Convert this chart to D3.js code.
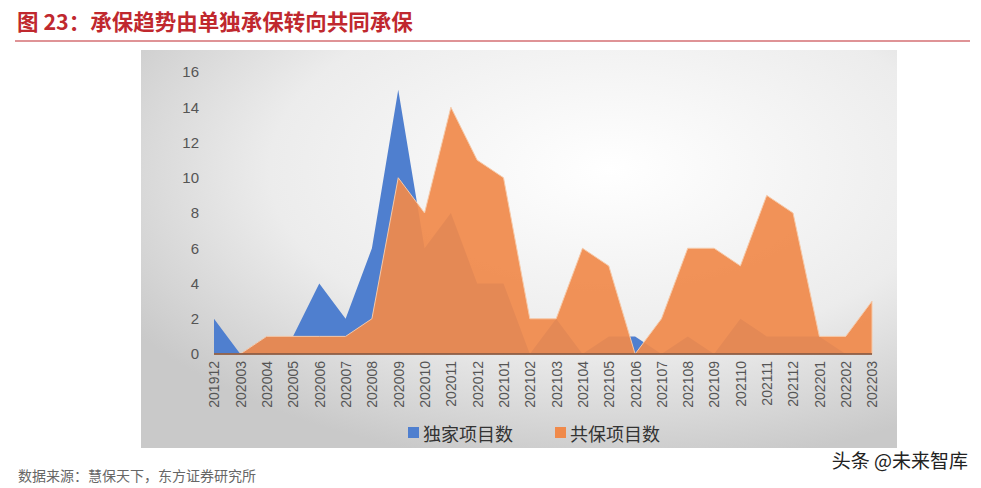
<!DOCTYPE html>
<html><head><meta charset="utf-8">
<script src="https://cdn.jsdelivr.net/npm/d3@7"></script>
<style>
body{margin:0;background:#fff;font-family:"Noto Sans CJK SC","Noto Sans",sans-serif;}
</style></head>
<body><svg id="c" width="981" height="488"></svg>
<script>
// data
var months = ["201912","202003","202004","202005","202006","202007","202008","202009","202010","202011","202012","202101","202102","202103","202104","202105","202106","202107","202108","202109","202110","202111","202112","202201","202202","202203"];
var sole  = [2,0,1,1,4,2,6,15,6,8,4,4,0,2,0,1,1,0,1,0,2,1,1,1,0,0];
var joint = [0,0,1,1,1,1,2,10,8,14,11,10,2,2,6,5,0,2,6,6,5,9,8,1,1,3];
var yTicks = [0,2,4,6,8,10,12,14,16];

var svg = d3.select("#c");
var defs = svg.append("defs");
var g = defs.append("radialGradient").attr("id","bg").attr("cx","0.62").attr("cy","0.3").attr("r","0.75");
g.append("stop").attr("offset","0").attr("stop-color","#ffffff");
g.append("stop").attr("offset","0.6").attr("stop-color","#ececec");
g.append("stop").attr("offset","1").attr("stop-color","#c9c9c9");

// title
svg.append("text").attr("x",17).attr("y",30).attr("fill","#c0282e")
  .attr("font-size",21.5).attr("font-weight","bold").text("图 23：承保趋势由单独承保转向共同承保");
svg.append("line").attr("x1",15).attr("x2",970).attr("y1",41).attr("y2",41)
  .attr("stroke","#c0282e").attr("stroke-width",1.2);

svg.append("rect").attr("x",141).attr("y",50).attr("width",756).attr("height",398).attr("fill","url(#bg)");

var x = d3.scalePoint().domain(months).range([214,872]);
var y = d3.scaleLinear().domain([0,16]).range([354,72]);

var area = function(vals){
  return d3.area().x(function(d,i){return x(months[i]);}).y0(y(0)).y1(function(d){return y(d);})(vals);
};
svg.append("path").attr("d",area(sole)).attr("fill","#4f7fcf");
svg.append("path").attr("d",area(joint)).attr("fill","#f08a4b").attr("fill-opacity",0.93)
  .attr("stroke","#f6c9a8").attr("stroke-width",1);

var ya = svg.append("g").attr("transform","translate(203,0)")
  .call(d3.axisLeft(y).tickValues(yTicks).tickSize(0).tickPadding(4));
ya.select(".domain").remove();
ya.selectAll("text").attr("font-size",15).attr("fill","#555").attr("font-family","Liberation Sans,Arial");

svg.append("line").attr("x1",214).attr("x2",872).attr("y1",y(0)).attr("y2",y(0)).attr("stroke","#7a4a33").attr("stroke-width",1.5);

var xa = svg.append("g").attr("transform","translate(0,"+(y(0)+3)+")")
  .call(d3.axisBottom(x).tickSize(0));
xa.select(".domain").remove();
xa.selectAll("text").attr("font-size",14).attr("fill","#555").attr("font-family","Liberation Sans,Arial")
  .attr("transform","rotate(-90)").attr("text-anchor","end").attr("dx","-4").attr("dy","0.35em").attr("x",0).attr("y",0);

// legend
var leg = [["独家项目数","#4f7fcf",408],["共保项目数","#f08a4b",555]];
leg.forEach(function(l){
  svg.append("rect").attr("x",l[2]).attr("y",427).attr("width",11).attr("height",11).attr("fill",l[1]);
  svg.append("text").attr("x",l[2]+15).attr("y",441).attr("font-size",18).attr("fill","#333").text(l[0]);
});

svg.append("text").attr("x",18).attr("y",481).attr("font-size",14).attr("fill","#666").text("数据来源：慧保天下，东方证券研究所");
svg.append("text").attr("x",968).attr("y",468).attr("text-anchor","end").attr("font-size",19).attr("fill","#222").text("头条 @未来智库");
</script></body></html>
